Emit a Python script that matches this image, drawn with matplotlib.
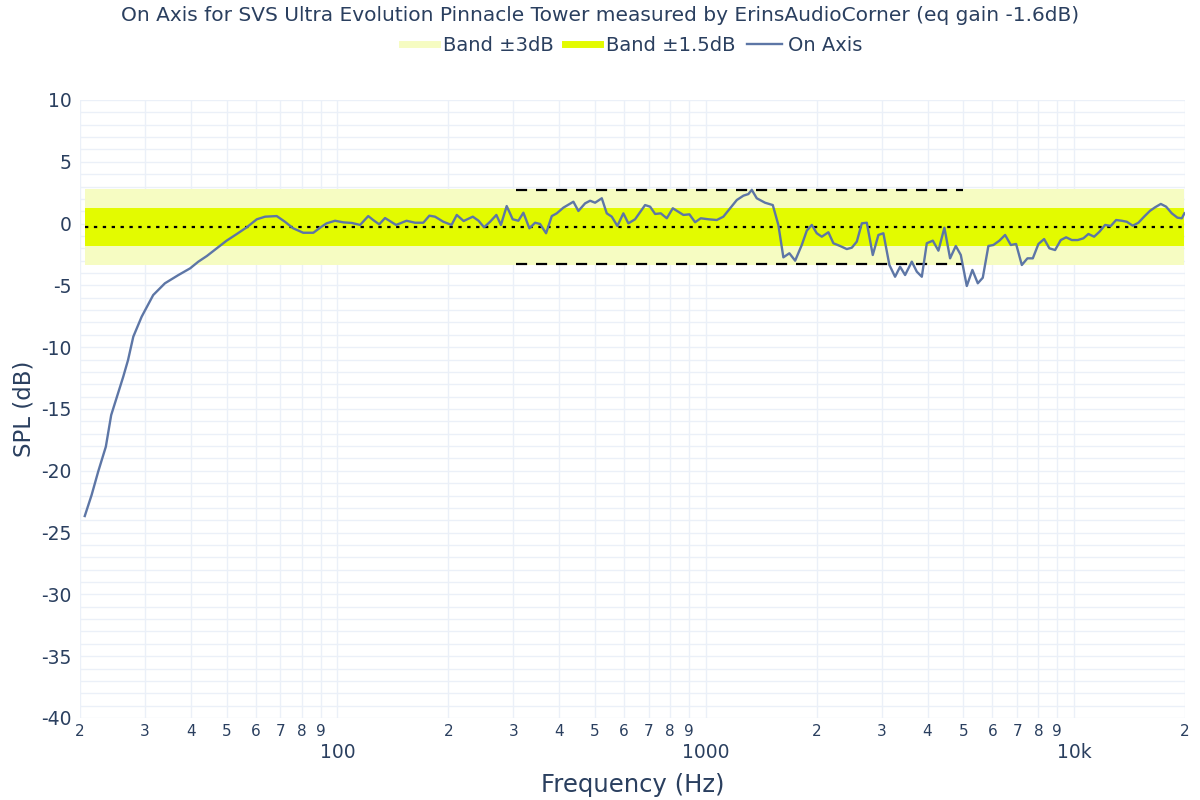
import matplotlib
matplotlib.use("Agg")
import matplotlib.pyplot as plt
from matplotlib.ticker import FixedLocator, NullFormatter

plt.rcParams["axes.unicode_minus"] = False

# on axis response (Hz, dB)
freq = [20.6, 21.5, 22.4, 23.5, 24.3, 25.2, 26.2, 27.0, 27.9, 29.4,
        31.6, 34.0, 37.0, 39.8, 41.9, 44.2, 47.0, 50.0, 53.3, 56.7,
        60.4, 63.6, 68.4, 72.0, 75.8, 80.7, 86.0, 89.7, 93.4, 98.5,
        103.8, 109.5, 115.2, 121.2, 125, 129.8, 134.6, 144.3, 154, 162.4,
        171, 177.6, 184, 193.8, 204, 210.8, 220, 233, 241.6, 250,
        259.6, 270, 277.8, 288, 299, 309.8, 319.7, 331.9, 344.0, 354.8,
        368.4, 381.8, 393.9, 410.5, 437.0, 450.9, 470.2, 485.1, 500.5, 521.9,
        538.4, 555.5, 575.3, 597.3, 616.3, 642.7, 684.1, 705.9, 728.4, 754.7,
        783.6, 813.5, 842.5, 869.3, 902.6, 935.3, 969.0, 1016, 1071, 1116,
        1164, 1214, 1265, 1305, 1333, 1375, 1448, 1520, 1574, 1624,
        1686, 1748, 1822, 1880, 1940, 2001, 2065, 2152, 2220, 2315,
        2414, 2491, 2570, 2652, 2736, 2840, 2942, 3035, 3151, 3265,
        3369, 3476, 3625, 3740, 3859, 3981, 4134, 4281, 4444, 4605,
        4772, 4924, 5112, 5294, 5476, 5649, 5851, 6037, 6268, 6495,
        6731, 6958, 7211, 7468, 7724, 7999, 8289, 8568, 8878, 9198,
        9511, 9856, 10233, 10597, 10934, 11331, 11713, 12137, 12577, 13002,
        13474, 13900, 14430, 14944, 15488, 16079, 16592, 17192, 17772, 18417,
        19073, 19607, 19929]
spl = [-23.66, -21.96, -20.07, -18.05, -15.49, -14.0, -12.39, -11.04, -9.15, -7.53,
       -5.78, -4.83, -4.16, -3.62, -3.08, -2.62, -2.0, -1.38, -0.84, -0.3,
       0.35, 0.56, 0.61, 0.15, -0.38, -0.74, -0.74, -0.33, 0.02, 0.23,
       0.10, 0.05, -0.11, 0.61, 0.29, -0.06, 0.45, -0.11, 0.23, 0.07,
       0.07, 0.64, 0.56, 0.15, -0.11, 0.70, 0.21, 0.56, 0.23, -0.30,
       0.15, 0.70, -0.11, 1.42, 0.35, 0.23, 0.88, -0.38, 0.07, -0.03,
       -0.78, 0.61, 0.83, 1.29, 1.77, 1.02, 1.64, 1.85, 1.69, 2.05,
       0.83, 0.56, -0.19, 0.83, 0.02, 0.35, 1.50, 1.37, 0.78, 0.83,
       0.43, 1.24, 0.96, 0.70, 0.75, 0.11, 0.43, 0.35, 0.29, 0.56,
       1.24, 1.91, 2.26, 2.39, 2.73, 2.05, 1.69, 1.50, -0.11, -2.73,
       -2.40, -3.00, -1.73, -0.57, -0.11, -0.78, -1.06, -0.70, -1.59, -1.81,
       -2.06, -1.95, -1.46, 0.02, 0.07, -2.54, -0.92, -0.78, -3.35, -4.30,
       -3.49, -4.16, -3.08, -3.89, -4.30, -1.59, -1.38, -2.19, -0.33, -2.81,
       -1.81, -2.54, -5.05, -3.75, -4.83, -4.38, -1.81, -1.73, -1.38, -0.92,
       -1.73, -1.65, -3.35, -2.81, -2.81, -1.65, -1.25, -2.00, -2.14, -1.33,
       -1.11, -1.33, -1.33, -1.19, -0.84, -1.06, -0.66, -0.11, -0.19, 0.29,
       0.23, 0.15, -0.17, 0.07, 0.56, 1.04, 1.32, 1.59, 1.37, 0.83,
       0.48, 0.43, 0.83]

ref_level = -0.27  # mean level of the band
band_lo_f, band_hi_f = 305, 5000

text_col = "#2a3f5f"
grid_col = "#ebf0f8"

fig = plt.figure(figsize=(12, 8), dpi=100)
ax = fig.add_axes([0.0667, 0.1025, 0.9208, 0.7725])

f0, f1 = freq[0], freq[-1]
ax.fill_between([f0, f1], ref_level - 3.1, ref_level + 3.1, color="#f6fcc2", lw=0, zorder=1)
ax.fill_between([f0, f1], ref_level - 1.55, ref_level + 1.55, color="#e3fb00", lw=0, zorder=2)
ax.plot([f0, f1], [ref_level, ref_level], color="black", ls=(0, (1.5, 2.5)), lw=1.6, zorder=3)
for off in (-3, 3):
    ax.plot([band_lo_f, band_hi_f], [ref_level + off] * 2, color="black",
            ls=(0, (5, 4)), lw=1.6, zorder=3)
line, = ax.plot(freq, spl, color="#5d76a6", lw=1.7, zorder=4)

ax.set_xscale("log")
ax.set_xlim(20, 20000)
ax.set_ylim(-40, 10)

# x ticks: decades labelled below, 2..9 labelled above
ax.xaxis.set_major_locator(FixedLocator([100, 1000, 10000]))
ax.set_xticklabels(["100", "1000", "10k"])
minor_pos = [m * 10 ** e for e in (1, 2, 3) for m in range(2, 10)] + [20000]
minor_lab = [str(int(p))[0] for p in minor_pos]
ax.set_xticks(minor_pos, minor=True)
ax.set_xticklabels(minor_lab, minor=True)
ax.tick_params(axis="x", which="major", length=0, pad=18, labelsize=13.5, labelcolor=text_col)
ax.tick_params(axis="x", which="minor", length=0, pad=4, labelsize=11, labelcolor=text_col)

ax.set_yticks(range(-40, 11, 5))
ax.set_yticks(range(-40, 11, 1), minor=True)
ax.tick_params(axis="y", which="both", length=0, labelsize=13.5, labelcolor=text_col, pad=6)
ax.yaxis.set_minor_formatter(NullFormatter())

ax.grid(True, which="both", color=grid_col, lw=1, zorder=0)
ax.set_axisbelow(True)
for s in ax.spines.values():
    s.set_visible(False)

ax.set_xlabel("Frequency (Hz)", fontsize=17.5, color=text_col, labelpad=8)
ax.set_ylabel("SPL (dB)", fontsize=16.5, color=text_col, labelpad=4)

fig.text(0.5, 0.981, "On Axis for SVS Ultra Evolution Pinnacle Tower measured by ErinsAudioCorner (eq gain -1.6dB)",
         ha="center", va="center", fontsize=14.5, color=text_col)

h3 = plt.Line2D([], [], color="#f6fcc2", lw=5)
h15 = plt.Line2D([], [], color="#e3fb00", lw=5)
fig.legend([h3, h15, line], ["Band ±3dB", "Band ±1.5dB", "On Axis"], loc="center",
           bbox_to_anchor=(0.527, 0.943), ncol=3, frameon=False, fontsize=14,
           labelcolor=text_col, handlelength=1.8, handletextpad=0.3, columnspacing=0.6)

fig.savefig("out.png", dpi=100)
